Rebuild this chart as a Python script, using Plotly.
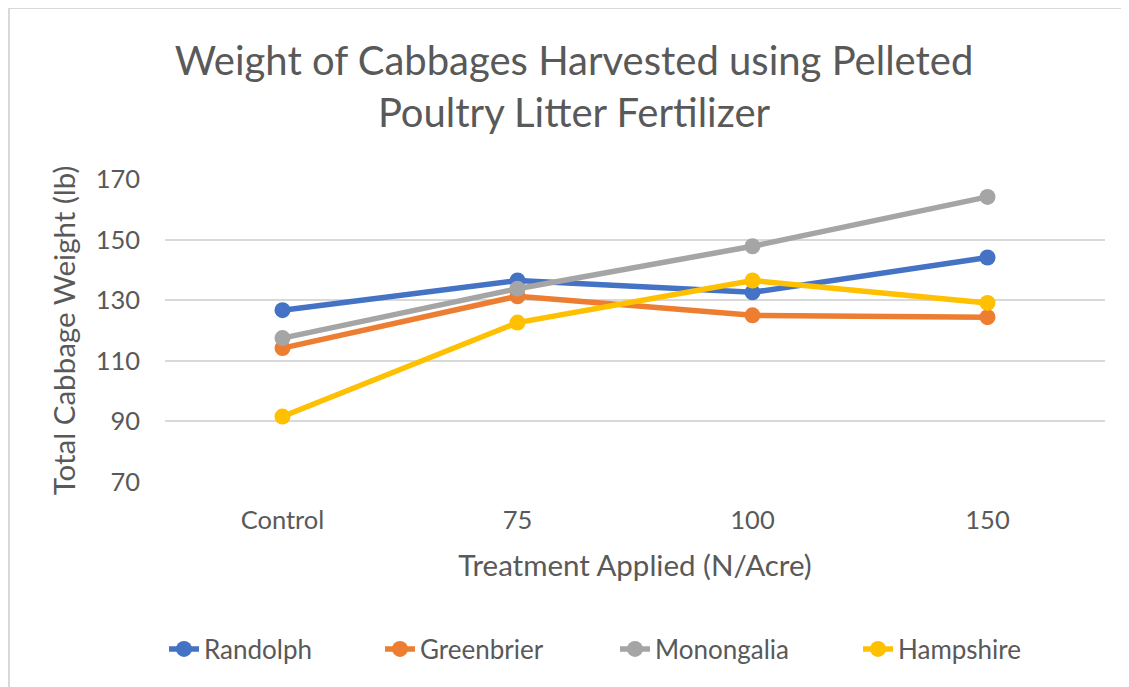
import plotly.graph_objects as go

categories = ["Control", "75", "100", "150"]
randolph = [126.7, 136.5, 132.6, 144.1]
greenbrier = [114.2, 131.3, 125.0, 124.4]
monongalia = [117.5, 133.8, 147.8, 164.1]
hampshire = [91.6, 122.6, 136.5, 129.1]

series_names = ["Randolph", "Greenbrier", "Monongalia", "Hampshire"]
series_values = [randolph, greenbrier, monongalia, hampshire]
colors = ["#4472C4", "#ED7D31", "#A5A5A5", "#FFC000"]
legend_widths = [171, 190, 198, 130]

FONT = "Lato"
TXT = "#595959"

fig = go.Figure()
for name, vals, c, lw in zip(series_names, series_values, colors, legend_widths):
    fig.add_trace(go.Scatter(
        x=categories, y=vals, name=name, mode="lines+markers",
        line=dict(color=c, width=5.5),
        marker=dict(color=c, size=16),
        legendwidth=lw,
    ))

# page body adds an 8px offset; figure coordinates = screen - 8
W, H = 1121, 679
L, R, T, B = 157, 24, 171, 205
pw, ph = W - L - R, H - T - B

def px2x(px):
    return (px - L) / pw

def py2y(py):
    return (H - B - py) / ph

border = dict(color="#D9D9D9", width=2)

fig.update_layout(
    width=W, height=H,
    margin=dict(l=L, r=R, t=T, b=B, autoexpand=False),
    paper_bgcolor="white", plot_bgcolor="white",
    font=dict(family=FONT, color=TXT),
    title=dict(
        text="Weight of Cabbages Harvested using Pelleted<br>Poultry Litter Fertilizer",
        x=566 / W, xanchor="center", xref="container",
        y=1 - 67 / H, yanchor="top", yref="container",
        font=dict(family=FONT, size=40, color=TXT),
    ),
    xaxis=dict(
        type="category", range=[-0.5, 3.5], showgrid=False, zeroline=False, showline=False,
        tickfont=dict(size=25.5, color=TXT), ticklabelstandoff=20,
        title=dict(text="Treatment Applied (N/Acre)", font=dict(size=29.5, color=TXT), standoff=22),
    ),
    yaxis=dict(
        range=[70, 170], tick0=70, dtick=20, showgrid=True, gridcolor="#D9D9D9", gridwidth=2,
        zeroline=False, showline=False,
        tickfont=dict(size=25.5, color=TXT), ticklabelstandoff=24,
        title=dict(text="Total Cabbage Weight (lb)", font=dict(size=29.5, color=TXT), standoff=11),
    ),
    legend=dict(
        orientation="h", x=156 / W, xanchor="left", xref="container",
        y=1 - 641 / H, yanchor="middle", yref="container",
        font=dict(size=26, color=TXT),
    ),
    shapes=[
        dict(type="line", xref="paper", yref="paper",
             x0=px2x(1), x1=px2x(W + 20), y0=py2y(0), y1=py2y(0),
             line=border, layer="below"),
        dict(type="line", xref="paper", yref="paper",
             x0=px2x(1), x1=px2x(1), y0=py2y(0), y1=py2y(H + 20),
             line=border, layer="below"),
    ],
)

fig.write_html("out.html")
